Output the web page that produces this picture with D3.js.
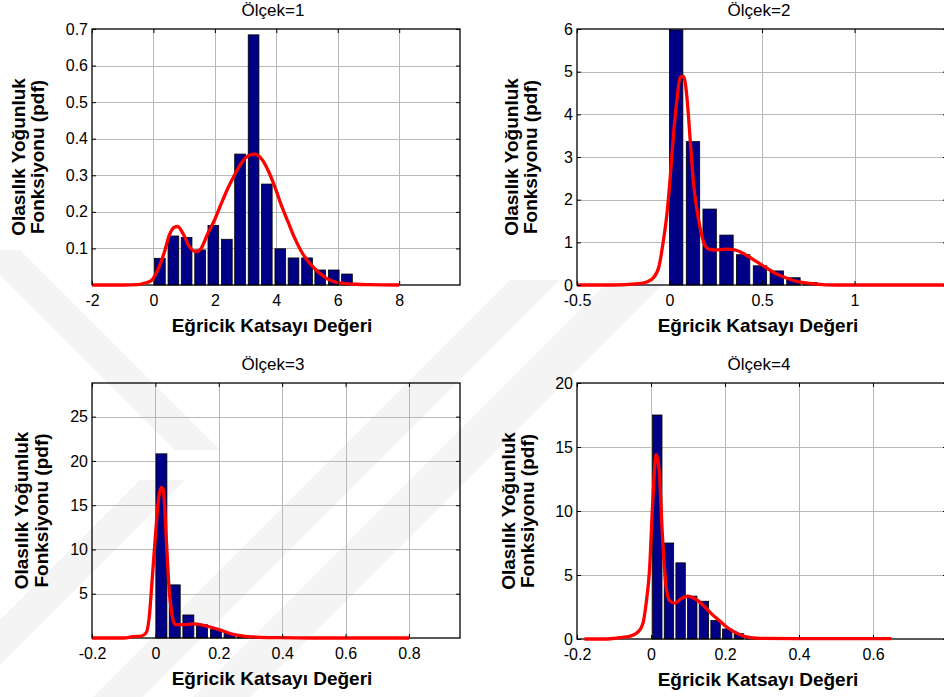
<!DOCTYPE html>
<html>
<head>
<meta charset="utf-8">
<script src="https://cdn.jsdelivr.net/npm/d3@7"></script>
<style>
    html, body { margin: 0; padding: 0; background: #fff; }
    svg { display: block; font-family: "Liberation Sans", Arial, Helvetica, sans-serif; }
</style>
</head>
<body>
<svg id="chart" width="944" height="697"></svg>
<script>
// ---- texts ----
const titles = ['Ölçek=1', 'Ölçek=2', 'Ölçek=3', 'Ölçek=4'];
const xLabel = 'Eğricik Katsayı Değeri';
const yLabelLines = ['Olasılık Yoğunluk', 'Fonksiyonu (pdf)'];

// ---- Ölçek=1 ----
const binCenters1 = [0.21, 0.65, 1.08, 1.52, 1.95, 2.39, 2.82, 3.26, 3.69, 4.13, 4.56, 5.00, 5.43, 5.87, 6.30];
const binValues1 = [0.073, 0.134, 0.130, 0.096, 0.163, 0.125, 0.358, 0.684, 0.276, 0.099, 0.074, 0.074, 0.041, 0.041, 0.030];
const binWidth1 = 0.435;
const pdfX1 = [-2, -1, -0.5, -0.29, -0.08, 0.14, 0.36, 0.52, 0.68, 0.79, 0.96, 1.17, 1.39, 1.55, 1.77, 1.99, 2.21, 2.42, 2.64, 2.86, 3.08, 3.29, 3.51, 3.73, 3.95, 4.16, 4.38, 4.60, 4.82, 5.09, 5.36, 5.63, 5.96, 6.28, 6.61, 7, 8];
const pdfY1 = [0, 0, 0.001, 0.005, 0.011, 0.041, 0.091, 0.137, 0.158, 0.160, 0.141, 0.105, 0.091, 0.100, 0.141, 0.178, 0.223, 0.264, 0.301, 0.333, 0.353, 0.358, 0.346, 0.314, 0.269, 0.219, 0.173, 0.128, 0.091, 0.059, 0.036, 0.018, 0.007, 0.004, 0.002, 0.001, 0];
const xTicks1 = [-2, 0, 2, 4, 6, 8];
const yTicks1 = [0.1, 0.2, 0.3, 0.4, 0.5, 0.6, 0.7];

// ---- Ölçek=2 ----
const binCenters2 = [0.036, 0.127, 0.217, 0.308, 0.398, 0.489, 0.580, 0.670, 0.761];
const binValues2 = [5.98, 3.36, 1.78, 1.17, 0.71, 0.45, 0.33, 0.17, 0.06];
const binWidth2 = 0.0906;
const pdfX2 = [-0.5, -0.3, -0.168, -0.123, -0.087, -0.056, -0.033, -0.014, 0.004, 0.022, 0.040, 0.058, 0.076, 0.094, 0.112, 0.130, 0.158, 0.185, 0.212, 0.248, 0.303, 0.357, 0.411, 0.466, 0.520, 0.574, 0.629, 0.683, 0.737, 0.792, 0.9, 1.5];
const pdfY2 = [0, 0, 0.03, 0.07, 0.17, 0.45, 1.04, 1.66, 2.53, 3.55, 4.33, 4.88, 4.89, 4.41, 3.39, 2.37, 1.51, 1.00, 0.84, 0.82, 0.84, 0.82, 0.71, 0.56, 0.41, 0.27, 0.17, 0.09, 0.05, 0.02, 0, 0];
const xTicks2 = [-0.5, 0, 0.5, 1, 1.5];
const yTicks2 = [0, 1, 2, 3, 4, 5, 6];

// ---- Ölçek=3 ----
const binCenters3 = [0.019, 0.061, 0.104, 0.147, 0.191, 0.234, 0.276, 0.318, 0.362];
const binValues3 = [20.8, 6.0, 2.6, 1.5, 0.95, 0.5, 0.3, 0.15, 0.05];
const binWidth3 = 0.0432;
const pdfX3 = [-0.2, -0.1, -0.072, -0.045, -0.029, -0.019, -0.011, 0.0, 0.011, 0.019, 0.025, 0.034, 0.042, 0.053, 0.063, 0.086, 0.118, 0.149, 0.181, 0.213, 0.244, 0.276, 0.318, 0.39, 0.5, 0.8];
const pdfY3 = [0, 0, 0.15, 0.22, 0.6, 2.5, 6.2, 11.5, 16.0, 17.0, 16.7, 11.5, 6.2, 2.5, 1.5, 1.5, 1.6, 1.46, 1.16, 0.79, 0.41, 0.22, 0.11, 0.04, 0, 0];
const xTicks3 = [-0.2, 0, 0.2, 0.4, 0.6, 0.8];
const yTicks3 = [5, 10, 15, 20, 25];

// ---- Ölçek=4 ----
const binCenters4 = [0.017, 0.0485, 0.080, 0.1115, 0.143, 0.1745, 0.206, 0.2375, 0.269];
const binValues4 = [17.5, 7.5, 5.95, 3.35, 2.95, 1.45, 0.78, 0.42, 0.1];
const binWidth4 = 0.0318;
const pdfX4 = [-0.18, -0.12, -0.085, -0.058, -0.035, -0.022, -0.013, -0.004, 0.005, 0.014, 0.022, 0.031, 0.040, 0.050, 0.064, 0.082, 0.100, 0.118, 0.141, 0.163, 0.186, 0.208, 0.231, 0.258, 0.294, 0.4, 0.65];
const pdfY4 = [0, 0, 0.1, 0.2, 0.55, 1.2, 2.8, 5.4, 10.9, 14.4, 13.2, 8.0, 4.3, 3.0, 2.8, 3.16, 3.34, 3.16, 2.64, 1.98, 1.41, 0.86, 0.47, 0.16, 0.05, 0.03, 0.03];
const xTicks4 = [-0.2, 0, 0.2, 0.4, 0.6, 0.8];
const yTicks4 = [0, 5, 10, 15, 20];

// ---- layout ----
const panels = [
    { title: titles[0], left: 92, right: 460, top: 29, bottom: 285, xDomain: [-2, 9.98], yDomain: [0, 0.7],
      centers: binCenters1, values: binValues1, binWidth: binWidth1, pdfX: pdfX1, pdfY: pdfY1,
      xTicks: xTicks1, yTicks: yTicks1, ylabX: [18, 37] },
    { title: titles[1], left: 577, right: 947, top: 29, bottom: 285, xDomain: [-0.5, 1.5], yDomain: [0, 6],
      centers: binCenters2, values: binValues2, binWidth: binWidth2, pdfX: pdfX2, pdfY: pdfY2,
      xTicks: xTicks2, yTicks: yTicks2, ylabX: [511, 530] },
    { title: titles[2], left: 92, right: 460, top: 383, bottom: 638, xDomain: [-0.2, 0.961], yDomain: [0, 28.8],
      centers: binCenters3, values: binValues3, binWidth: binWidth3, pdfX: pdfX3, pdfY: pdfY3,
      xTicks: xTicks3, yTicks: yTicks3, ylabX: [21, 41] },
    { title: titles[3], left: 577, right: 947, top: 383, bottom: 639, xDomain: [-0.2, 0.8], yDomain: [0, 20],
      centers: binCenters4, values: binValues4, binWidth: binWidth4, pdfX: pdfX4, pdfY: pdfY4,
      xTicks: xTicks4, yTicks: yTicks4, ylabX: [508, 527] }
];

const svg = d3.select('#chart');
const pageWidth = 944;

// faint background watermark bands
const watermark = [
    [[510, 280], [560, 280], [143, 697], [93, 697]],
    [[610, 280], [667, 280], [250, 697], [193, 697]],
    [[-25, 250], [20, 250], [220, 450], [175, 450]],
    [[140, 480], [185, 480], [-32, 697], [-77, 697]]
];
svg.append('g')
    .selectAll('polygon')
    .data(watermark)
    .join('polygon')
    .attr('points', d => d.map(p => p.join(',')).join(' '))
    .attr('fill', '#f4f4f4');

function drawPanel(p, i) {
    const g = svg.append('g').attr('class', 'panel');
    const x = d3.scaleLinear().domain(p.xDomain).range([p.left, p.right]);
    const y = d3.scaleLinear().domain(p.yDomain).range([p.bottom, p.top]);

    // labels that would fall past the page edge are not shown
    const fmtX = v => (x(v) > pageWidth - 8 ? '' : String(v));

    const clipId = 'clip' + i;
    svg.append('clipPath').attr('id', clipId)
        .append('rect')
        .attr('x', p.left).attr('y', p.top - 2)
        .attr('width', p.right - p.left).attr('height', p.bottom - p.top + 4);

    // grid
    const grid = g.append('g').attr('stroke', '#b8b8b8').attr('stroke-width', 1);
    grid.selectAll('.gx')
        .data(p.xTicks.filter(v => v > p.xDomain[0] && v < p.xDomain[1]))
        .join('line')
        .attr('x1', d => Math.round(x(d)) + 0.5).attr('x2', d => Math.round(x(d)) + 0.5)
        .attr('y1', p.top).attr('y2', p.bottom);
    grid.selectAll('.gy')
        .data(p.yTicks.filter(v => v > p.yDomain[0] && v < p.yDomain[1]))
        .join('line')
        .attr('y1', d => Math.round(y(d)) + 0.5).attr('y2', d => Math.round(y(d)) + 0.5)
        .attr('x1', p.left).attr('x2', p.right);

    // histogram bars
    const bars = p.centers.map((c, k) => ({ c: c, v: p.values[k] }));
    g.append('g')
        .attr('clip-path', `url(#${clipId})`)
        .selectAll('rect')
        .data(bars)
        .join('rect')
        .attr('x', d => x(d.c - p.binWidth * 0.4))
        .attr('width', d => x(d.c + p.binWidth * 0.4) - x(d.c - p.binWidth * 0.4))
        .attr('y', d => y(d.v))
        .attr('height', d => y(0) - y(d.v))
        .attr('fill', '#000087')
        .attr('stroke', '#000')
        .attr('stroke-width', 0.8);

    // axes box
    g.append('rect')
        .attr('x', p.left).attr('y', p.top)
        .attr('width', p.right - p.left).attr('height', p.bottom - p.top)
        .attr('fill', 'none')
        .attr('stroke', '#000')
        .attr('stroke-width', 1.3);

    // estimated pdf
    const pts = p.pdfX.map((v, k) => [v, p.pdfY[k]]);
    const line = d3.line()
        .x(d => x(d[0]))
        .y(d => y(d[1]))
        .curve(d3.curveMonotoneX);
    g.append('path')
        .attr('clip-path', `url(#${clipId})`)
        .datum(pts)
        .attr('d', line)
        .attr('fill', 'none')
        .attr('stroke', '#ff0000')
        .attr('stroke-width', 3.3)
        .attr('stroke-linejoin', 'round');

    // axes with inward ticks
    const bottomAxis = g.append('g')
        .attr('transform', `translate(0,${p.bottom})`)
        .call(d3.axisBottom(x).tickValues(p.xTicks).tickSizeInner(-4).tickSizeOuter(0).tickPadding(10).tickFormat(fmtX));
    const leftAxis = g.append('g')
        .attr('transform', `translate(${p.left},0)`)
        .call(d3.axisLeft(y).tickValues(p.yTicks).tickSizeInner(-4).tickSizeOuter(0).tickPadding(4).tickFormat(v => String(v)));
    g.append('g')
        .attr('transform', `translate(0,${p.top})`)
        .call(d3.axisTop(x).tickValues(p.xTicks).tickSizeInner(-4).tickSizeOuter(0).tickFormat(''));
    g.append('g')
        .attr('transform', `translate(${p.right},0)`)
        .call(d3.axisRight(y).tickValues(p.yTicks).tickSizeInner(-4).tickSizeOuter(0).tickFormat(''));

    g.selectAll('.domain').remove();
    g.selectAll('.tick line').attr('stroke', '#000');
    [bottomAxis, leftAxis].forEach(a => {
        a.attr('font-family', null).attr('font-size', null);
        a.selectAll('text')
            .attr('fill', '#000')
            .style('font-size', '16px');
    });

    // title
    const cx = (p.left + p.right) / 2;
    g.append('text')
        .attr('x', cx - 3)
        .attr('y', p.top - 13)
        .attr('text-anchor', 'middle')
        .style('font-size', '17px')
        .text(p.title);

    // x label
    g.append('text')
        .attr('x', cx - 4)
        .attr('y', p.bottom + 47)
        .attr('text-anchor', 'middle')
        .style('font-size', '19px')
        .style('font-weight', 'bold')
        .text(xLabel);

    // y label (two lines)
    const cy = (p.top + p.bottom) / 2;
    yLabelLines.forEach((txt, k) => {
        g.append('text')
            .attr('transform', `translate(${p.ylabX[k]},${cy}) rotate(-90)`)
            .attr('text-anchor', 'middle')
            .attr('dy', '0.35em')
            .style('font-size', '19px')
            .style('font-weight', 'bold')
            .text(txt);
    });
}

panels.forEach(drawPanel);
</script>
</body>
</html>
